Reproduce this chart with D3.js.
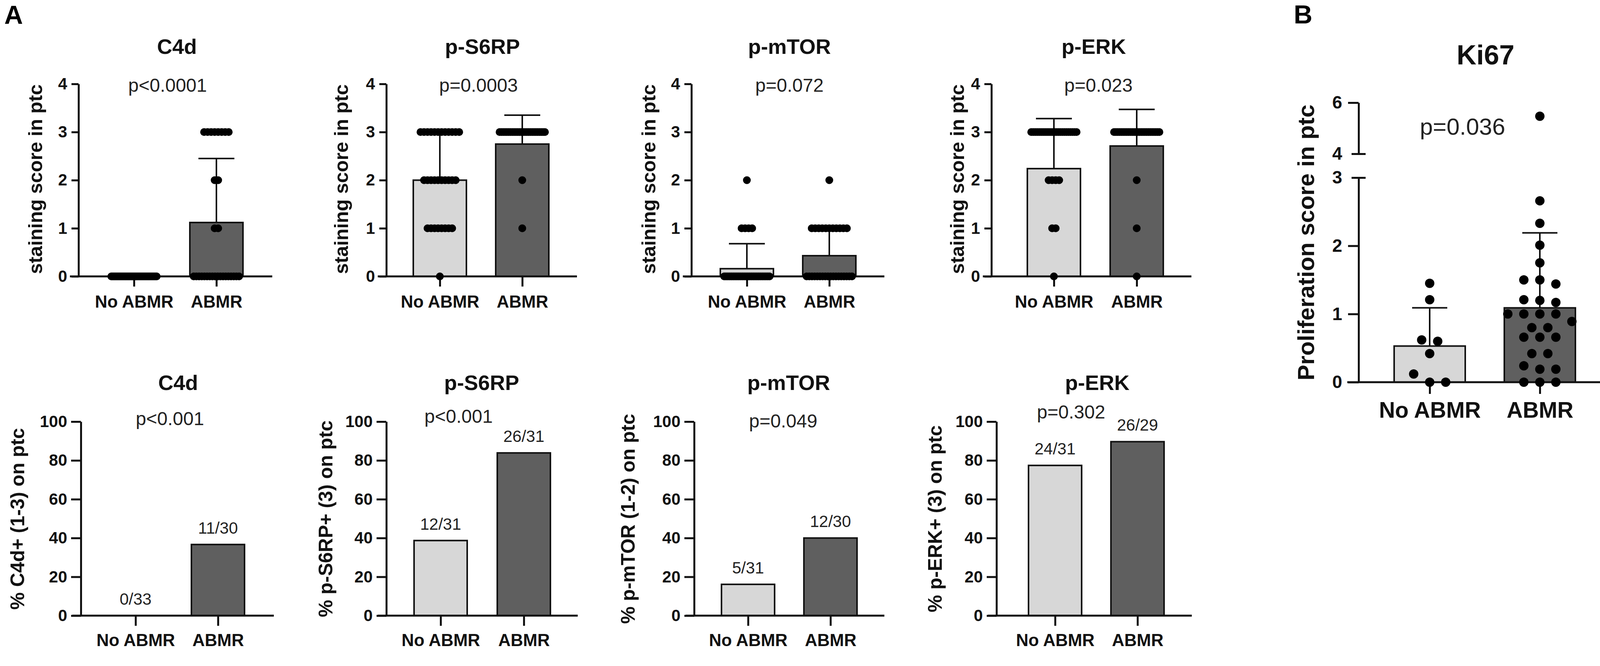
<!DOCTYPE html>
<html><head><meta charset="utf-8">
<script src="https://cdn.jsdelivr.net/npm/d3@7/dist/d3.min.js"></script>
<style>body{margin:0;background:#fff}svg{display:block}</style>
</head><body>
<svg id="c" width="4167" height="1706"></svg>
<script>
// ---------------- DATA ----------------
const groups = ["No ABMR", "ABMR"];
const markers = ["C4d", "p-S6RP", "p-mTOR", "p-ERK"];
const scoreTicks = [0, 1, 2, 3, 4];
const percentTicks = [0, 20, 40, 60, 80, 100];

// Top row: staining score in ptc (mean and SD)
const scoreMeanNoABMR = [0, 2.0, 0.16, 2.24];
const scoreMeanABMR   = [1.12, 2.75, 0.43, 2.71];
const scoreSdNoABMR   = [0, 0.95, 0.52, 1.04];
const scoreSdABMR     = [1.33, 0.60, 0.55, 0.76];
// number of samples at score 0,1,2,3
const scoreCountsNoABMR = [[33, 0, 0, 0], [1, 8, 10, 12], [26, 4, 1, 0], [1, 2, 4, 24]];
const scoreCountsABMR   = [[18, 2, 2, 8], [0, 1, 1, 26], [18, 11, 1, 0], [1, 1, 1, 26]];
const pValuesTop = ["p<0.0001", "p=0.0003", "p=0.072", "p=0.023"];
const yLabelTop = "staining score in ptc";

// Bottom row: % positive on ptc
const positiveNoABMR = [0, 12, 5, 24];
const totalNoABMR    = [33, 31, 31, 31];
const positiveABMR   = [11, 26, 12, 26];
const totalABMR      = [30, 31, 30, 29];
const pValuesBottom  = ["p<0.001", "p<0.001", "p=0.049", "p=0.302"];
const yLabelsBottom  = ["% C4d+ (1-3) on ptc", "% p-S6RP+ (3) on ptc", "% p-mTOR (1-2) on ptc", "% p-ERK+ (3) on ptc"];

// Panel B: Ki67 proliferation score
const ki67NoABMR = [1.45, 1.21, 0.62, 0.60, 0.42, 0.12, 0, 0];
const ki67ABMR = [5.47, 2.66, 2.33, 2.01, 1.75, 1.50, 1.50, 1.44, 1.21, 1.20, 1.17,
                  1.00, 1.00, 1.00, 1.00, 0.89, 0.80, 0.80, 0.66, 0.66, 0.66,
                  0.42, 0.42, 0.24, 0.19, 0.19, 0, 0, 0];
const ki67Mean = [0.53, 1.09];
const ki67Sd   = [0.56, 1.10];
const ki67TicksLow = [0, 1, 2, 3];
const ki67TicksHigh = [4, 6];
const ki67P = "p=0.036";

// ---------------- LAYOUT ----------------
const FONT = "'Liberation Sans', Arial, Helvetica, sans-serif";
const LIGHT = "#d7d7d7", DARK = "#5f5f5f", INK = "#111";
const barFill = [LIGHT, DARK];
const svg = d3.select("#c");
const fmtInt = d3.format("d");

const topL = {axisX: [201, 989, 1770, 2538], cats: [[343, 554], [1126, 1337], [1912, 2123], [2698, 2910]],
  xEnd: [697, 1477, 2264, 3050], titleX: [453, 1235, 2021, 2800], pX: [429, 1225, 2021, 2812],
  ylabX: [95, 878, 1665, 2455], y0: 708, yTop: 215, titleY: 138, pY: 235, ylabY: 459};
const botL = {axisX: [207, 989, 1777, 2551], cats: [[347, 558], [1128, 1341], [1915, 2126], [2701, 2912]],
  xEnd: [701, 1479, 2264, 3051], titleX: [456, 1233, 2019, 2809], pX: [435, 1174, 2005, 2742],
  pY: [1089, 1083, 1095, 1072], ylabX: [49, 838, 1612, 2398], y0: 1577, yTop: 1080, titleY: 999, ylabY: 1329};
const BAR_W = 136;

function styleAxis(sel, size) {
  sel.attr("font-family", FONT).attr("font-size", size).attr("font-weight", "bold");
  sel.selectAll("path,line").attr("stroke", INK).attr("stroke-width", 5);
  sel.selectAll("text").attr("fill", INK);
}
function text(x, y, s, size, weight, fill, anchor) {
  return svg.append("text").attr("x", x).attr("y", y).text(s)
    .attr("font-family", FONT).attr("font-size", size).attr("font-weight", weight || "normal")
    .attr("fill", fill || INK).attr("text-anchor", anchor || "middle");
}
function vtext(x, y, s, size) {
  return svg.append("text").attr("transform", `translate(${x},${y}) rotate(-90)`)
    .attr("text-anchor", "middle").attr("dominant-baseline", "middle").text(s)
    .attr("font-family", FONT).attr("font-size", size).attr("font-weight", "bold").attr("fill", INK);
}
function spread(n, step, maxW) {
  if (n <= 0) return [];
  if (n === 1) return [0];
  const w = Math.min((n - 1) * step, maxW);
  return d3.range(n).map(i => -w / 2 + i * w / (n - 1));
}

// panel letters
text(11, 61, "A", 66, "bold", "#000", "start");
text(3312, 60, "B", 66, "bold", "#000", "start");

// ---------------- TOP ROW ----------------
markers.forEach((m, i) => {
  const x = d3.scalePoint().domain(groups).range(topL.cats[i]);
  const y = d3.scaleLinear().domain([0, 4]).range([topL.y0, topL.yTop]);
  const g = svg.append("g");
  const means = [scoreMeanNoABMR[i], scoreMeanABMR[i]];
  const sds = [scoreSdNoABMR[i], scoreSdABMR[i]];
  const counts = [scoreCountsNoABMR[i], scoreCountsABMR[i]];

  g.selectAll("rect").data(groups.filter((d, k) => means[k] > 0)).join("rect")
    .attr("x", d => x(d) - BAR_W / 2).attr("width", BAR_W)
    .attr("y", d => y(means[groups.indexOf(d)]))
    .attr("height", d => y(0) - y(means[groups.indexOf(d)]))
    .attr("fill", d => barFill[groups.indexOf(d)]).attr("stroke", INK).attr("stroke-width", 4);
  groups.forEach((grp, k) => {
    if (sds[k] <= 0) return;
    const cx = x(grp);
    g.append("line").attr("x1", cx).attr("x2", cx).attr("y1", y(means[k])).attr("y2", y(means[k] + sds[k]))
      .attr("stroke", INK).attr("stroke-width", 4);
    g.append("line").attr("x1", cx - 46).attr("x2", cx + 46).attr("y1", y(means[k] + sds[k])).attr("y2", y(means[k] + sds[k]))
      .attr("stroke", INK).attr("stroke-width", 4);
  });
  const ya = g.append("g").attr("transform", `translate(${topL.axisX[i]},0)`)
    .call(d3.axisLeft(y).tickValues(scoreTicks).tickFormat(fmtInt).tickSize(18).tickSizeOuter(0).tickPadding(11));
  styleAxis(ya, 42);
  g.append("line").attr("x1", topL.axisX[i] - 22).attr("x2", topL.xEnd[i]).attr("y1", y(0)).attr("y2", y(0))
    .attr("stroke", INK).attr("stroke-width", 5);
  const xa = g.append("g").attr("transform", `translate(0,${y(0)})`)
    .call(d3.axisBottom(x).tickSize(26).tickSizeOuter(0).tickPadding(23));
  xa.select(".domain").remove();
  styleAxis(xa, 44);
  groups.forEach((grp, k) => {
    const pts = [];
    counts[k].forEach((n, score) => {
      spread(n, 9, BAR_W - 20).forEach(off => pts.push({v: score, off}));
    });
    g.append("g").selectAll("circle").data(pts).join("circle")
      .attr("cx", d => x(grp) + d.off).attr("cy", d => y(d.v)).attr("r", 10).attr("fill", "#000");
  });
  text(topL.titleX[i], topL.titleY, m, 54, "bold");
  text(topL.pX[i], topL.pY, pValuesTop[i], 48, "normal", "#222");
  vtext(topL.ylabX[i], topL.ylabY, yLabelTop, 50);
});

// ---------------- BOTTOM ROW ----------------
markers.forEach((m, i) => {
  const x = d3.scalePoint().domain(groups).range(botL.cats[i]);
  const y = d3.scaleLinear().domain([0, 100]).range([botL.y0, botL.yTop]);
  const g = svg.append("g");
  const pos = [positiveNoABMR[i], positiveABMR[i]];
  const tot = [totalNoABMR[i], totalABMR[i]];
  const pct = pos.map((p, k) => 100 * p / tot[k]);

  g.selectAll("rect").data(groups.filter((d, k) => pct[k] > 0)).join("rect")
    .attr("x", d => x(d) - BAR_W / 2).attr("width", BAR_W)
    .attr("y", d => y(pct[groups.indexOf(d)]))
    .attr("height", d => y(0) - y(pct[groups.indexOf(d)]))
    .attr("fill", d => barFill[groups.indexOf(d)]).attr("stroke", INK).attr("stroke-width", 4);

  const ya = g.append("g").attr("transform", `translate(${botL.axisX[i]},0)`)
    .call(d3.axisLeft(y).tickValues(percentTicks).tickFormat(fmtInt).tickSize(25).tickSizeOuter(0).tickPadding(10));
  styleAxis(ya, 42);
  g.append("line").attr("x1", botL.axisX[i] - 22).attr("x2", botL.xEnd[i]).attr("y1", y(0)).attr("y2", y(0))
    .attr("stroke", INK).attr("stroke-width", 5);
  const xa = g.append("g").attr("transform", `translate(0,${y(0)})`)
    .call(d3.axisBottom(x).tickSize(26).tickSizeOuter(0).tickPadding(21));
  xa.select(".domain").remove();
  styleAxis(xa, 44);

  groups.forEach((grp, k) => {
    text(x(grp), y(pct[k]) - 28, `${pos[k]}/${tot[k]}`, 42, "normal", "#222");
  });
  text(botL.titleX[i], botL.titleY, m, 54, "bold");
  text(botL.pX[i], botL.pY[i], pValuesBottom[i], 48, "normal", "#222");
  vtext(botL.ylabX[i], botL.ylabY, yLabelsBottom[i], 50);
});

// ---------------- PANEL B: Ki67 ----------------
(function () {
  const axisX = 3478, y0 = 979;
  const x = d3.scalePoint().domain(groups).range([3660, 3942]);
  const yLow = d3.scaleLinear().domain([0, 3]).range([y0, 455]);
  const yHigh = d3.scaleLinear().domain([4, 6]).range([394, 263]);
  const y = v => (v <= 3.5 ? yLow(v) : yHigh(v));
  const g = svg.append("g");
  const KW = 182;

  g.selectAll("rect").data(groups).join("rect")
    .attr("x", d => x(d) - KW / 2).attr("width", KW)
    .attr("y", d => y(ki67Mean[groups.indexOf(d)]))
    .attr("height", d => y0 - y(ki67Mean[groups.indexOf(d)]))
    .attr("fill", d => barFill[groups.indexOf(d)]).attr("stroke", INK).attr("stroke-width", 4);

  groups.forEach((grp, k) => {
    const cx = x(grp), t = y(ki67Mean[k] + ki67Sd[k]);
    g.append("line").attr("x1", cx).attr("x2", cx).attr("y1", y(ki67Mean[k])).attr("y2", t)
      .attr("stroke", INK).attr("stroke-width", 4);
    g.append("line").attr("x1", cx - 45).attr("x2", cx + 45).attr("y1", t).attr("y2", t)
      .attr("stroke", INK).attr("stroke-width", 4);
  });

  const aLow = g.append("g").attr("transform", `translate(${axisX},0)`)
    .call(d3.axisLeft(yLow).tickValues(ki67TicksLow).tickFormat(fmtInt).tickSize(27).tickSizeOuter(0).tickPadding(15));
  const aHigh = g.append("g").attr("transform", `translate(${axisX},0)`)
    .call(d3.axisLeft(yHigh).tickValues(ki67TicksHigh).tickFormat(fmtInt).tickSize(27).tickSizeOuter(0).tickPadding(15));
  [aLow, aHigh].forEach(a => {
    styleAxis(a, 46);
    a.selectAll(".tick").filter(d => d === 3 || d === 4).select("line").attr("x1", 18).attr("x2", -18);
  });
  g.append("line").attr("x1", 3449).attr("x2", 4132).attr("y1", y0).attr("y2", y0)
    .attr("stroke", INK).attr("stroke-width", 5);
  const xa = g.append("g").attr("transform", `translate(0,${y0})`)
    .call(d3.axisBottom(x).tickSize(30).tickSizeOuter(0).tickPadding(21));
  xa.select(".domain").remove();
  styleAxis(xa, 57);

  [ki67NoABMR, ki67ABMR].forEach((vals, k) => {
    const sorted = vals.slice().sort((a, b) => b - a);
    const rows = [];
    sorted.forEach(v => {
      const r = rows[rows.length - 1];
      if (r && r.start - v < 0.135) r.vals.push(v); else rows.push({start: v, vals: [v]});
    });
    const pts = [];
    rows.forEach(r => {
      const offs = spread(r.vals.length, 41, 400);
      r.vals.forEach((v, j) => pts.push({v, off: offs[j]}));
    });
    g.append("g").selectAll("circle").data(pts).join("circle")
      .attr("cx", d => x(groups[k]) + d.off).attr("cy", d => y(d.v)).attr("r", 12).attr("fill", "#000");
  });

  text(3803, 165, "Ki67", 70, "bold");
  text(3744, 345, ki67P, 60, "normal", "#222");
  vtext(3348, 621, "Proliferation score in ptc", 60);
})();
</script>
</body></html>
